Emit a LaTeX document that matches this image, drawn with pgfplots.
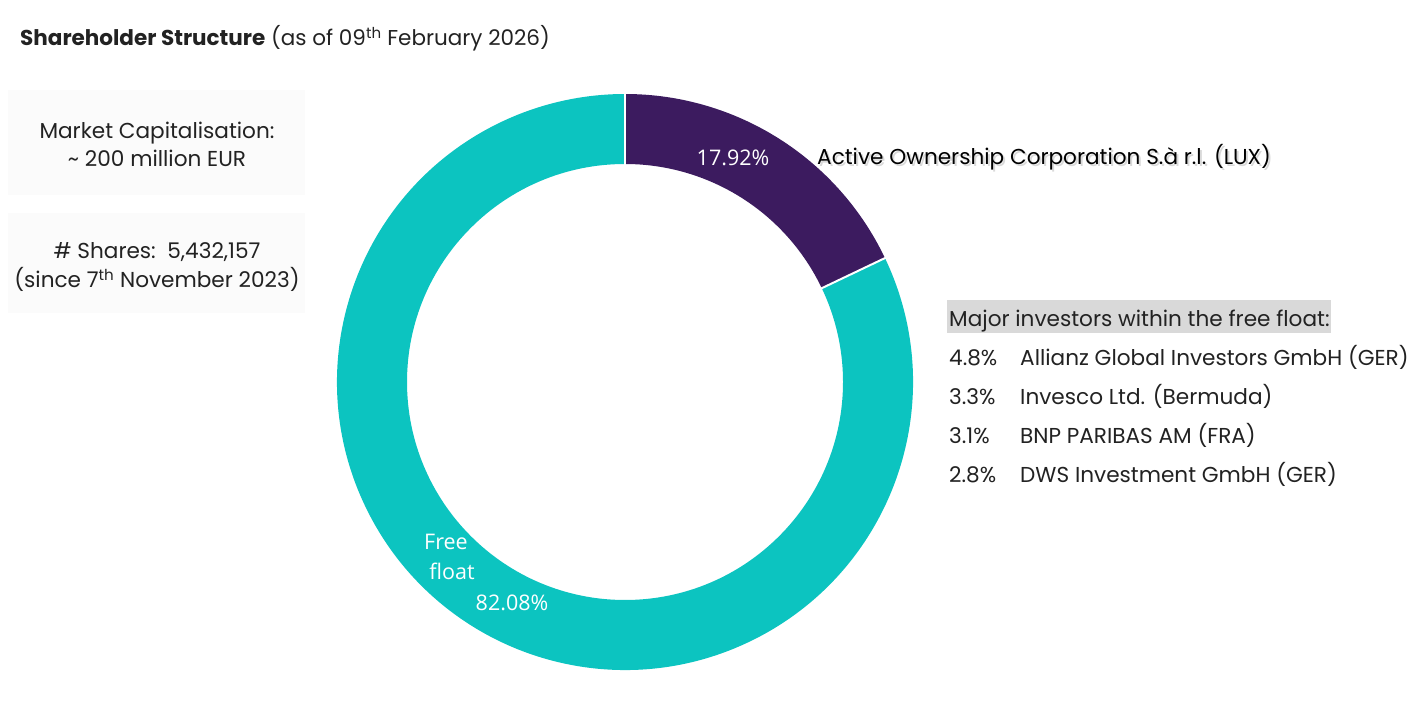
\documentclass[border=0pt]{standalone}
\usepackage{pgfplots}
\pgfplotsset{compat=1.18}
\usepackage{pgfplotstable}
\usepackage{fontspec}
\setmainfont{Poppins}
\newfontfamily\opensans{Open Sans}
\definecolor{ff}{HTML}{0CC4C0}
\definecolor{aoc}{HTML}{3C1B5F}
\definecolor{txt}{HTML}{222222}
\definecolor{panel}{HTML}{FBFBFB}
\definecolor{hdr}{HTML}{D9D9D9}

\pgfplotstableread{
share
17.92
82.08
}\shares

\begin{document}
\begin{tikzpicture}[
    body/.style={txt, anchor=mid west, inner sep=0pt, font=\fontsize{21.6}{25}\selectfont},
    lab/.style={white, anchor=mid, inner sep=0pt, font=\opensans\fontsize{21.5}{25}\selectfont}]
\begin{axis}[
    scale only axis,
    width=1420pt, height=685pt,
    xmin=0, xmax=1420, ymin=0, ymax=685,
    hide axis,
    clip=false,
]
\path (rel axis cs:0,0) rectangle (rel axis cs:1,1);

% donut: centre (625,303), outer radius 288, inner radius 218
\pgfplotstablegetelem{0}{share}\of\shares \let\sa\pgfplotsretval
\pgfplotstablegetelem{1}{share}\of\shares \let\sb\pgfplotsretval
\pgfmathsetmacro\ea{90-3.6*\sa}
\pgfmathsetmacro\eb{\ea-3.6*\sb}
\fill[aoc] (axis cs:625,303) ++(90:288pt) arc[start angle=90,end angle=\ea,radius=288pt]
    -- ++(\ea:-70pt) arc[start angle=\ea,end angle=90,radius=218pt] -- cycle;
\fill[ff] (axis cs:625,303) ++(\ea:288pt) arc[start angle=\ea,end angle=\eb,radius=288pt]
    -- ++(\eb:-70pt) arc[start angle=\eb,end angle=\ea,radius=218pt] -- cycle;
\draw[white, line width=2pt] (axis cs:625,303) ++(90:216pt) -- ++(90:74pt);
\draw[white, line width=2pt] (axis cs:625,303) ++(\ea:216pt) -- ++(\ea:74pt);

% slice labels
\node[lab] at (axis cs:733,522) {17.92\%};
\node[lab] at (axis cs:446,138) {Free};
\node[lab] at (axis cs:452,108) {float};
\node[lab] at (axis cs:512,77) {82.08\%};

% title
\node[txt, anchor=base west, inner sep=0pt, font=\fontsize{21.5}{26}\selectfont] at (axis cs:20,639)
    {\textbf{Shareholder Structure} (as of 09\textsuperscript{th} February 2026)};

% left panels
\fill[panel] (axis cs:8,490) rectangle (axis cs:305,595);
\fill[panel] (axis cs:8,372) rectangle (axis cs:305,472);
\node[body, anchor=mid] at (axis cs:157,549) {Market Capitalisation:};
\node[body, anchor=mid] at (axis cs:157,521) {\textasciitilde{} 200 million EUR};
\node[body, anchor=mid] at (axis cs:157,429) {\#~Shares:\ \ 5,432,157};
\node[body, anchor=mid] at (axis cs:157,400) {(since 7\textsuperscript{th} November 2023)};

% AOC label with soft shadow
\node[body, black, opacity=0.15] at (axis cs:819,521) {Active Ownership Corporation S.à r.l. (LUX)};
\node[body, black] at (axis cs:817,523) {Active Ownership Corporation S.à r.l. (LUX)};

% major investors
\fill[hdr] (axis cs:947,352) rectangle (axis cs:1331,385);
\node[body] at (axis cs:949,361) {Major investors within the free float:};
\node[body] at (axis cs:949,322) {4.8\%};
\node[body] at (axis cs:1020,322) {Allianz Global Investors GmbH (GER)};
\node[body] at (axis cs:949,283) {3.3\%};
\node[body] at (axis cs:1020,283) {Invesco Ltd. (Bermuda)};
\node[body] at (axis cs:949,244) {3.1\%};
\node[body] at (axis cs:1020,244) {BNP PARIBAS AM (FRA)};
\node[body] at (axis cs:949,205) {2.8\%};
\node[body] at (axis cs:1020,205) {DWS Investment GmbH (GER)};
\end{axis}
\end{tikzpicture}
\end{document}
